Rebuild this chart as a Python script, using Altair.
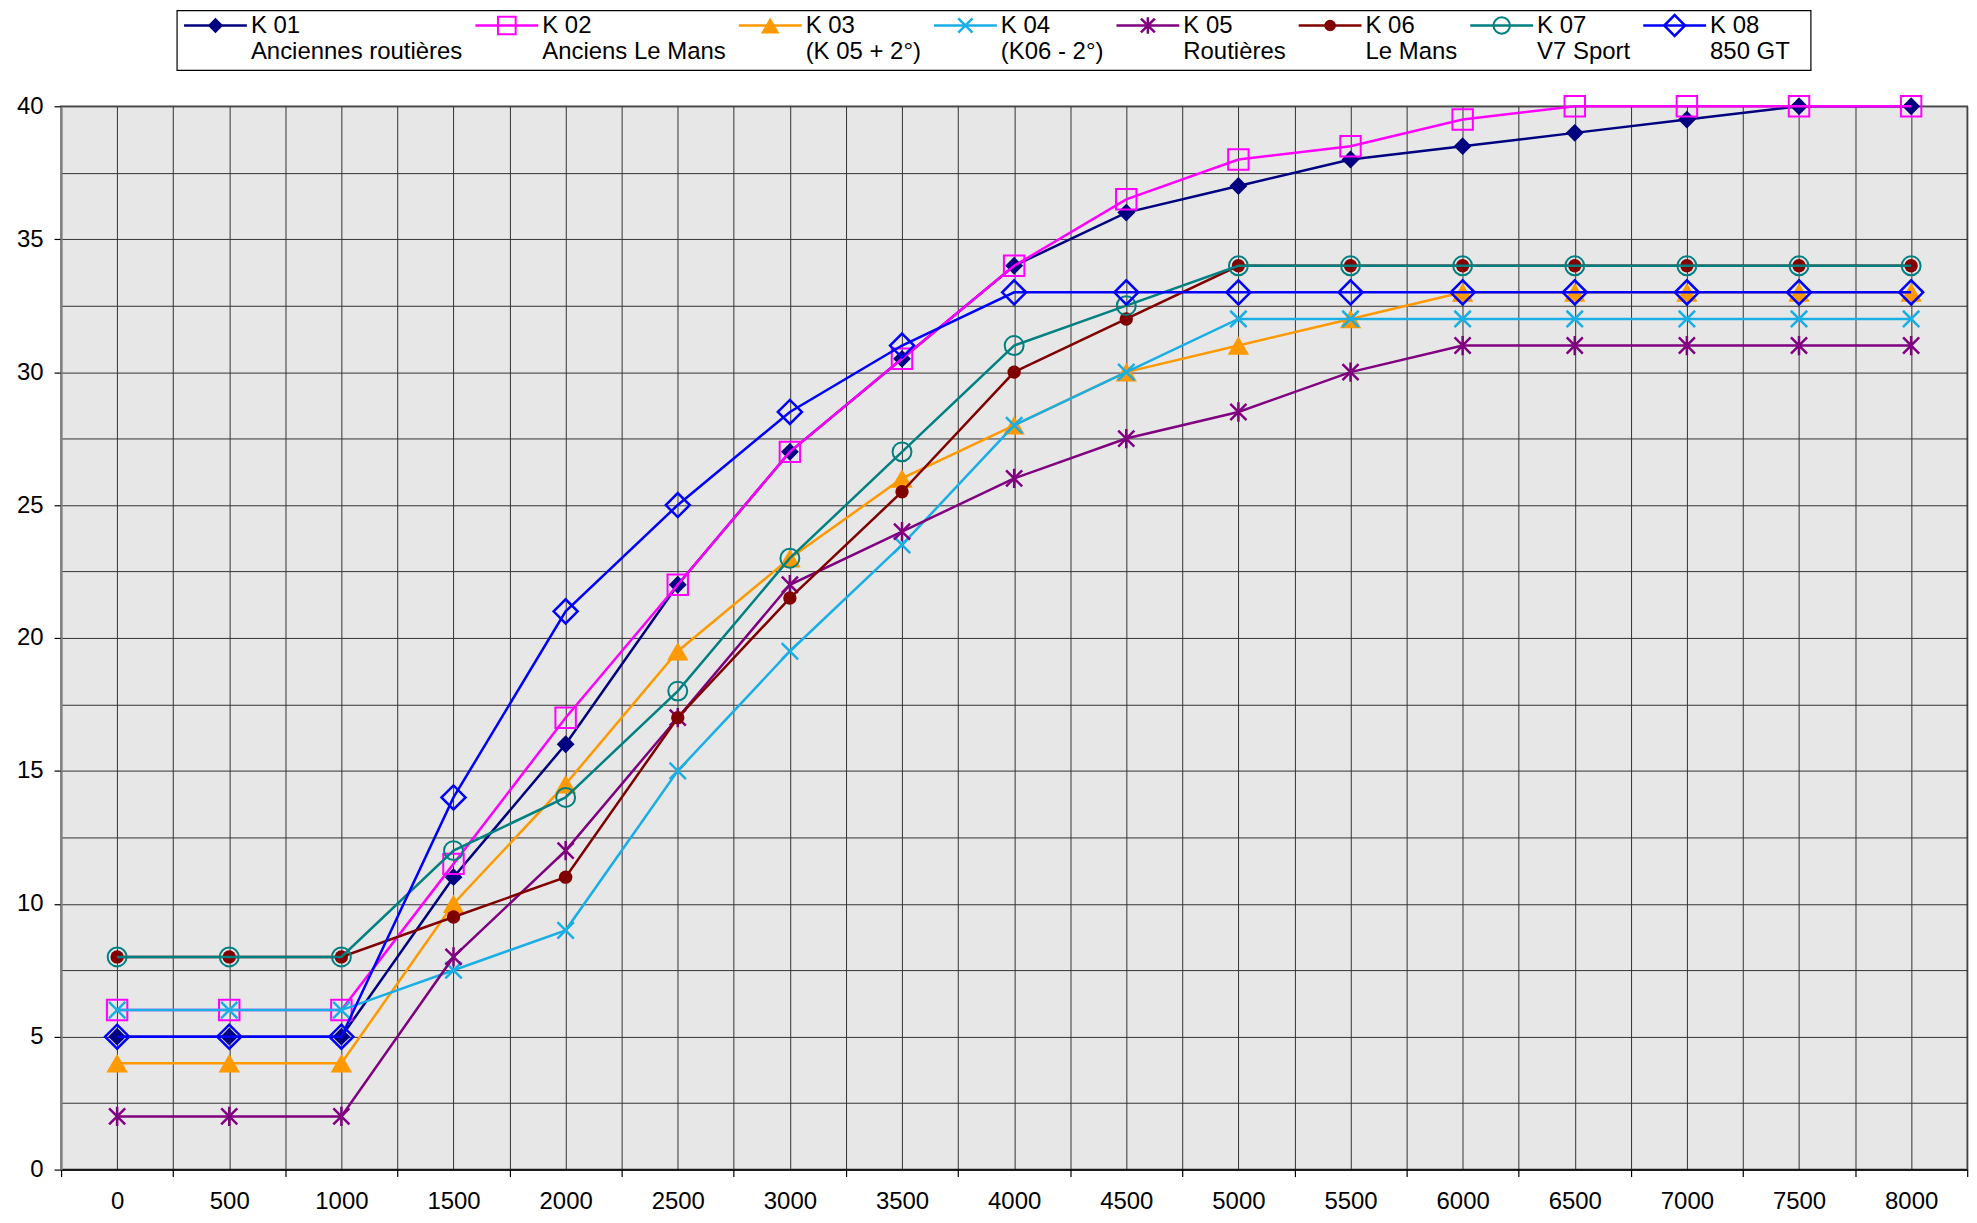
import altair as alt
import pandas as pd

# ---------------- data ----------------
rpm = [0, 500, 1000, 1500, 2000, 2500, 3000, 3500, 4000, 4500, 5000, 5500, 6000, 6500, 7000, 7500, 8000]

series_ids = ["K 01", "K 02", "K 03", "K 04", "K 05", "K 06", "K 07", "K 08"]
series_desc = ["Anciennes routières", "Anciens Le Mans", "(K 05 + 2°)", "(K06 - 2°)",
               "Routières", "Le Mans", "V7 Sport", "850 GT"]

k01 = [5, 5, 5, 11, 16, 22, 27, 30.5, 34, 36, 37, 38, 38.5, 39, 39.5, 40, 40]
k02 = [6, 6, 6, 11.5, 17, 22, 27, 30.5, 34, 36.5, 38, 38.5, 39.5, 40, 40, 40, 40]
k03 = [4, 4, 4, 10, 14.5, 19.5, 23, 26, 28, 30, 31, 32, 33, 33, 33, 33, 33]
k04 = [6, 6, 6, 7.5, 9, 15, 19.5, 23.5, 28, 30, 32, 32, 32, 32, 32, 32, 32]
k05 = [2, 2, 2, 8, 12, 17, 22, 24, 26, 27.5, 28.5, 30, 31, 31, 31, 31, 31]
k06 = [8, 8, 8, 9.5, 11, 17, 21.5, 25.5, 30, 32, 34, 34, 34, 34, 34, 34, 34]
k07 = [8, 8, 8, 12, 14, 18, 23, 27, 31, 32.5, 34, 34, 34, 34, 34, 34, 34]
k08 = [5, 5, 5, 14, 21, 25, 28.5, 31, 33, 33, 33, 33, 33, 33, 33, 33, 33]
series_values = [k01, k02, k03, k04, k05, k06, k07, k08]

# ---------------- styles ----------------
colors = ["#000080", "#FF00FF", "#FF9900", "#1AAEE6", "#800080", "#800000", "#008080", "#0000FF"]
X_PATH = "M-1,-1L1,1M-1,1L1,-1"
STAR_PATH = "M-1,-1L1,1M-1,1L1,-1M0,-1.2L0,1.2"
markers = [
    dict(shape="diamond", filled=True, size=320, strokeWidth=1),
    dict(shape="square", filled=False, size=420, strokeWidth=2),
    dict(shape="triangle-up", filled=True, size=460, strokeWidth=1),
    dict(shape=X_PATH, filled=False, size=270, strokeWidth=2.5),
    dict(shape=STAR_PATH, filled=False, size=260, strokeWidth=2.5),
    dict(shape="circle", filled=True, size=180, strokeWidth=1),
    dict(shape="circle", filled=False, size=360, strokeWidth=2),
    dict(shape="diamond", filled=False, size=580, strokeWidth=2.5),
]

FONT = "Liberation Sans"
TFS = 24
W, H = 1911, 1066

rows = []
for sid, vals in zip(series_ids, series_values):
    for r, v in zip(rpm, vals):
        rows.append({"series": sid, "rpm": r, "value": v})
df = pd.DataFrame(rows)

x_vals = [-250 + 250 * i for i in range(35)]
y_vals = [2.5 * i for i in range(17)]

x_enc = alt.X(
    "rpm:Q",
    scale=alt.Scale(domain=[-250, 8250], nice=False, zero=False),
    axis=alt.Axis(
        values=x_vals, format="d", title=None,
        labelExpr="datum.value % 500 == 0 ? datum.label : ''",
        tickOpacity={"condition": {"test": "datum.value % 500 == 0", "value": 0}, "value": 1},
        tickSize=7, tickColor="#000", tickWidth=1.2,
        domainColor="#000", domainWidth=1.5,
        labelFont=FONT, labelFontSize=TFS, labelColor="#000", labelPadding=13,
        grid=True, gridColor="#333333", gridWidth=1,
    ),
)
y_enc = alt.Y(
    "value:Q",
    scale=alt.Scale(domain=[0, 40], nice=False, zero=True),
    axis=alt.Axis(
        values=y_vals, title=None,
        labelExpr="datum.value % 5 == 0 ? datum.label : ''",
        tickOpacity={"condition": {"test": "datum.value % 5 == 0", "value": 1}, "value": 0},
        tickSize=7, tickColor="#000", tickWidth=1.2,
        domainColor="#808080", domainWidth=2,
        labelFont=FONT, labelFontSize=TFS, labelColor="#000", labelPadding=11,
        minExtent=52, maxExtent=52,
        grid=True, gridColor="#333333", gridWidth=1,
    ),
)

base = alt.Chart(df).encode(x=x_enc, y=y_enc)
layers = []
for sid, col, mk in zip(series_ids, colors, markers):
    sub = base.transform_filter(alt.datum.series == sid)
    layers.append(sub.mark_line(color=col, strokeWidth=2.5))
    layers.append(sub.mark_point(color=col, opacity=1, **mk))

main = alt.layer(*layers).properties(
    width=W, height=H,
    view=alt.ViewBackground(fill="#e7e7e7", stroke="#808080", strokeWidth=2),
)

# ---------------- legend (layout computed from label text widths) ----------------
ARIAL = {" ": 278, "(": 333, ")": 333, "+": 584, "-": 333, "°": 400, "K": 667, "A": 667,
         "L": 556, "M": 833, "R": 722, "G": 778, "T": 611, "V": 667, "S": 667,
         "a": 556, "c": 500, "e": 556, "è": 556, "i": 222, "n": 556, "o": 556, "p": 556,
         "r": 333, "s": 500, "t": 278, "u": 556}
LFS = 24


def text_w(s):
    return sum(ARIAL.get(c, 556) for c in s) * LFS / 1000.0


leg_rows = []
x0 = 7.0
for sid, desc in zip(series_ids, series_desc):
    tx = x0 + 67
    leg_rows.append({"series": sid, "desc": desc, "l0": x0, "l1": x0 + 63, "lm": x0 + 31.5, "tx": tx})
    x0 = tx + max(text_w(sid), text_w(desc)) + 13
LW = int(round(x0 + 8))
EXTRA = 42  # blank room right of the box, so that the centred box sits left of the plot centre
leg_df = pd.DataFrame(leg_rows)
box_df = pd.DataFrame([{"b0": 0, "b1": LW}])

lx = alt.Scale(domain=[0, LW + EXTRA], nice=False, zero=False)
lbase = alt.Chart(leg_df)
leg_layers = [
    alt.Chart(box_df).mark_rect(fill="white", stroke="#000", strokeWidth=1.2).encode(
        x=alt.X("b0:Q", scale=lx, axis=None), x2="b1:Q", y=alt.value(0), y2=alt.value(60))
]
for sid, col, mk in zip(series_ids, colors, markers):
    sub = lbase.transform_filter(alt.datum.series == sid)
    leg_layers.append(sub.mark_rule(color=col, strokeWidth=2.5).encode(
        x=alt.X("l0:Q", scale=lx, axis=None), x2="l1:Q", y=alt.value(15)))
    mk2 = dict(mk)
    mk2["size"] = mk["size"] * 0.75
    leg_layers.append(sub.mark_point(color=col, opacity=1, **mk2).encode(
        x=alt.X("lm:Q", scale=lx, axis=None), y=alt.value(15)))
leg_layers.append(lbase.mark_text(align="left", baseline="middle", font=FONT, fontSize=LFS, color="#000").encode(
    x=alt.X("tx:Q", scale=lx, axis=None), y=alt.value(16), text="series:N"))
leg_layers.append(lbase.mark_text(align="left", baseline="middle", font=FONT, fontSize=LFS, color="#000").encode(
    x=alt.X("tx:Q", scale=lx, axis=None), y=alt.value(42), text="desc:N"))

legend = alt.layer(*leg_layers).properties(
    width=LW + EXTRA, height=60,
    view=alt.ViewBackground(fill=None, stroke=None),
)

chart = alt.vconcat(legend, main, spacing=19, center=True).properties(padding=0)
chart = chart.configure(font=FONT)
chart.save("out.html", embed_options={"renderer": "svg", "actions": False})
